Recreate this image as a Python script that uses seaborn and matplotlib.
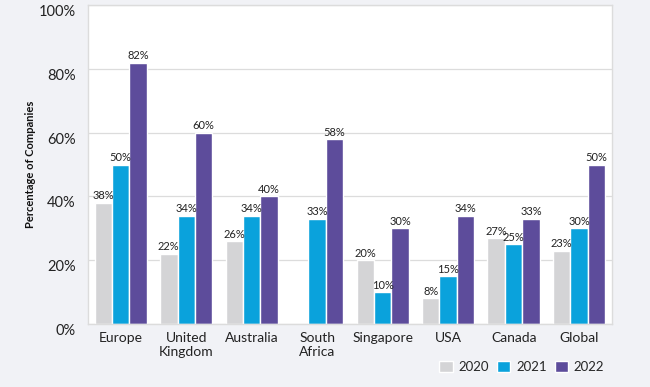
import numpy as np
import pandas as pd
import matplotlib
matplotlib.use("Agg")
import matplotlib.pyplot as plt
import seaborn as sns

categories = ["Europe", "United\nKingdom", "Australia", "South\nAfrica", "Singapore", "USA", "Canada", "Global"]
years = ["2020", "2021", "2022"]
v2020 = [38, 22, 26, np.nan, 20, 8, 27, 23]
v2021 = [50, 34, 34, 33, 10, 15, 25, 30]
v2022 = [82, 60, 40, 58, 30, 34, 33, 50]
colors = ["#d4d4d6", "#0aa2dc", "#5d4c9b"]

rows = []
for y, vals in zip(years, [v2020, v2021, v2022]):
    for c, v in zip(categories, vals):
        rows.append({"Region": c, "Year": y, "Value": v})
df = pd.DataFrame(rows)

sns.set_theme(style="white")
plt.rcParams['font.family'] = ['Lato', 'DejaVu Sans']

fig = plt.figure(figsize=(6.5, 3.87), dpi=100)
fig.patch.set_facecolor("#f1f2f6")
ax = fig.add_axes([0.1354, 0.1628, 0.806, 0.824])
ax.set_facecolor("white")

sns.barplot(data=df, x="Region", y="Value", hue="Year", palette=colors,
            width=0.8, ax=ax, saturation=1, legend=True)

for cont in ax.containers:
    labels = [("" if np.isnan(v) else f"{v:.0f}%") for v in cont.datavalues]
    ax.bar_label(cont, labels=labels, padding=1, fontsize=8, color="#222222")

ax.set_ylim(0, 100)
ax.set_yticks([0, 20, 40, 60, 80, 100])
ax.set_yticklabels([f"{t}%" for t in [0, 20, 40, 60, 80, 100]], fontsize=10.5, color="#222222")
for lbl in ax.get_yticklabels():
    lbl.set_verticalalignment("top")
ax.tick_params(axis="y", length=0, pad=9)
ax.tick_params(axis="x", length=0, pad=6, labelsize=10, labelcolor="#222222")
ax.yaxis.grid(True, color="#dcdcdc", linewidth=0.9)
ax.set_axisbelow(True)
for s in ax.spines.values():
    s.set_color("#dcdcdc")
    s.set_linewidth(1)
ax.set_xlabel("")
ax.set_ylabel("Percentage of Companies", fontsize=8, fontweight="bold", color="#111111", labelpad=2)

handles, labs = ax.get_legend_handles_labels()
ax.get_legend().remove()
fig.legend(handles, labs, loc="center right", bbox_to_anchor=(0.948, 0.052), ncol=3,
           frameon=False, fontsize=9.5, handlelength=1.0, handleheight=1.0,
           handletextpad=0.45, columnspacing=0.6)

fig.savefig("out.png", dpi=100, facecolor=fig.get_facecolor())
